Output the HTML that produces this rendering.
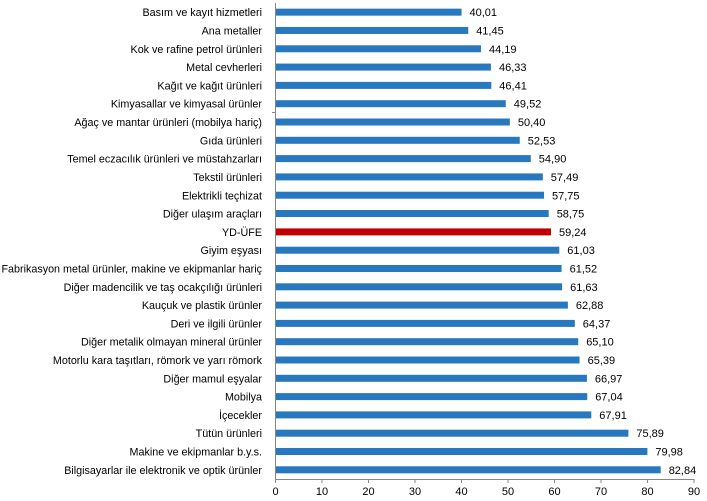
<!DOCTYPE html>
<html><head><meta charset="utf-8"><style>
html,body{margin:0;padding:0;background:#fff;}
svg{display:block;}
text{font-family:"Liberation Sans",Arial,sans-serif;font-size:11px;fill:#000;}
text[text-anchor="end"]{font-size:10.75px;}
</style></head><body>
<svg width="707" height="501" viewBox="0 0 707 501" xmlns="http://www.w3.org/2000/svg">
<line x1="275.5" y1="3" x2="275.5" y2="479.5" stroke="#868686" stroke-width="1"/>
<line x1="272" y1="112.5" x2="275.5" y2="112.5" stroke="#868686" stroke-width="1"/>
<line x1="275" y1="479.5" x2="694.5" y2="479.5" stroke="#868686" stroke-width="1"/>
<g stroke="#868686" stroke-width="1">
<line x1="275.5" y1="479" x2="275.5" y2="483"/>
<line x1="322" y1="479" x2="322" y2="483"/>
<line x1="368.5" y1="479" x2="368.5" y2="483"/>
<line x1="415" y1="479" x2="415" y2="483"/>
<line x1="461.5" y1="479" x2="461.5" y2="483"/>
<line x1="508" y1="479" x2="508" y2="483"/>
<line x1="554.5" y1="479" x2="554.5" y2="483"/>
<line x1="601" y1="479" x2="601" y2="483"/>
<line x1="647.5" y1="479" x2="647.5" y2="483"/>
<line x1="694" y1="479" x2="694" y2="483"/>
</g>
<g text-anchor="middle">
<text x="275.5" y="495">0</text>
<text x="322" y="495">10</text>
<text x="368.5" y="495">20</text>
<text x="415" y="495">30</text>
<text x="461.5" y="495">40</text>
<text x="508" y="495">50</text>
<text x="554.5" y="495">60</text>
<text x="601" y="495">70</text>
<text x="647.5" y="495">80</text>
<text x="694" y="495">90</text>
</g>

<rect x="276" y="8.65" width="185.55" height="7" fill="#2878C0"/>
<text x="262" y="16.2" text-anchor="end">Basım ve kayıt hizmetleri</text><text x="469.5" y="16.2">40,01</text>

<rect x="276" y="26.96" width="192.24" height="7" fill="#2878C0"/>
<text x="262" y="34.5" text-anchor="end">Ana metaller</text><text x="476.2" y="34.5">41,45</text>

<rect x="276" y="45.27" width="204.98" height="7" fill="#2878C0"/>
<text x="262" y="52.8" text-anchor="end">Kok ve rafine petrol ürünleri</text><text x="489" y="52.8">44,19</text>

<rect x="276" y="63.58" width="214.93" height="7" fill="#2878C0"/>
<text x="262" y="71.1" text-anchor="end">Metal cevherleri</text><text x="499" y="71.1">46,33</text>

<rect x="276" y="81.89" width="215.31" height="7" fill="#2878C0"/>
<text x="262" y="89.4" text-anchor="end">Kağıt ve kağıt ürünleri</text><text x="499.3" y="89.4">46,41</text>

<rect x="276" y="100.2" width="229.77" height="7" fill="#2878C0"/>
<text x="262" y="107.7" text-anchor="end">Kimyasallar ve kimyasal ürünler</text><text x="513.8" y="107.7">49,52</text>

<rect x="276" y="118.5" width="233.86" height="7" fill="#2878C0"/>
<text x="262" y="126.0" text-anchor="end">Ağaç ve mantar ürünleri (mobilya hariç)</text><text x="517.9" y="126.0">50,40</text>

<rect x="276" y="136.8" width="243.76" height="7" fill="#2878C0"/>
<text x="262" y="144.3" text-anchor="end">Gıda ürünleri</text><text x="527.8" y="144.3">52,53</text>

<rect x="276" y="155.1" width="254.79" height="7" fill="#2878C0"/>
<text x="262" y="162.6" text-anchor="end">Temel eczacılık ürünleri ve müstahzarları</text><text x="538.8" y="162.6">54,90</text>

<rect x="276" y="173.4" width="266.83" height="7" fill="#2878C0"/>
<text x="262" y="180.9" text-anchor="end">Tekstil ürünleri</text><text x="550.8" y="180.9">57,49</text>

<rect x="276" y="191.7" width="268.04" height="7" fill="#2878C0"/>
<text x="262" y="199.3" text-anchor="end">Elektrikli teçhizat</text><text x="552" y="199.3">57,75</text>

<rect x="276" y="210.0" width="272.69" height="7" fill="#2878C0"/>
<text x="262" y="217.6" text-anchor="end">Diğer ulaşım araçları</text><text x="556.7" y="217.6">58,75</text>

<rect x="276" y="228.4" width="274.97" height="7" fill="#C00000"/>
<text x="262" y="235.9" text-anchor="end">YD-ÜFE</text><text x="559" y="235.9">59,24</text>

<rect x="276" y="246.7" width="283.29" height="7" fill="#2878C0"/>
<text x="262" y="254.2" text-anchor="end">Giyim eşyası</text><text x="567.3" y="254.2">61,03</text>

<rect x="276" y="265.0" width="285.57" height="7" fill="#2878C0"/>
<text x="262" y="272.5" text-anchor="end">Fabrikasyon metal ürünler, makine ve ekipmanlar hariç</text><text x="569.6" y="272.5">61,52</text>

<rect x="276" y="283.3" width="286.08" height="7" fill="#2878C0"/>
<text x="262" y="290.8" text-anchor="end">Diğer madencilik ve taş ocakçılığı ürünleri</text><text x="570.1" y="290.8">61,63</text>

<rect x="276" y="301.6" width="291.89" height="7" fill="#2878C0"/>
<text x="262" y="309.1" text-anchor="end">Kauçuk ve plastik ürünler</text><text x="575.9" y="309.1">62,88</text>

<rect x="276" y="319.9" width="298.82" height="7" fill="#2878C0"/>
<text x="262" y="327.4" text-anchor="end">Deri ve ilgili ürünler</text><text x="582.8" y="327.4">64,37</text>

<rect x="276" y="338.2" width="302.21" height="7" fill="#2878C0"/>
<text x="262" y="345.7" text-anchor="end">Diğer metalik olmayan mineral ürünler</text><text x="586.2" y="345.7">65,10</text>

<rect x="276" y="356.5" width="303.56" height="7" fill="#2878C0"/>
<text x="262" y="364.0" text-anchor="end">Motorlu kara taşıtları, römork ve yarı römork</text><text x="587.6" y="364.0">65,39</text>

<rect x="276" y="374.8" width="310.91" height="7" fill="#2878C0"/>
<text x="262" y="382.3" text-anchor="end">Diğer mamul eşyalar</text><text x="594.9" y="382.3">66,97</text>

<rect x="276" y="393.1" width="311.24" height="7" fill="#2878C0"/>
<text x="262" y="400.6" text-anchor="end">Mobilya</text><text x="595.2" y="400.6">67,04</text>

<rect x="276" y="411.4" width="315.28" height="7" fill="#2878C0"/>
<text x="262" y="418.9" text-anchor="end">İçecekler</text><text x="599.3" y="418.9">67,91</text>

<rect x="276" y="429.7" width="352.39" height="7" fill="#2878C0"/>
<text x="262" y="437.2" text-anchor="end">Tütün ürünleri</text><text x="636.4" y="437.2">75,89</text>

<rect x="276" y="448.0" width="371.41" height="7" fill="#2878C0"/>
<text x="262" y="455.5" text-anchor="end">Makine ve ekipmanlar b.y.s.</text><text x="655.4" y="455.5">79,98</text>

<rect x="276" y="466.3" width="384.71" height="7" fill="#2878C0"/>
<text x="262" y="473.8" text-anchor="end">Bilgisayarlar ile elektronik ve optik ürünler</text><text x="668.7" y="473.8">82,84</text>
</svg>
</body></html>
